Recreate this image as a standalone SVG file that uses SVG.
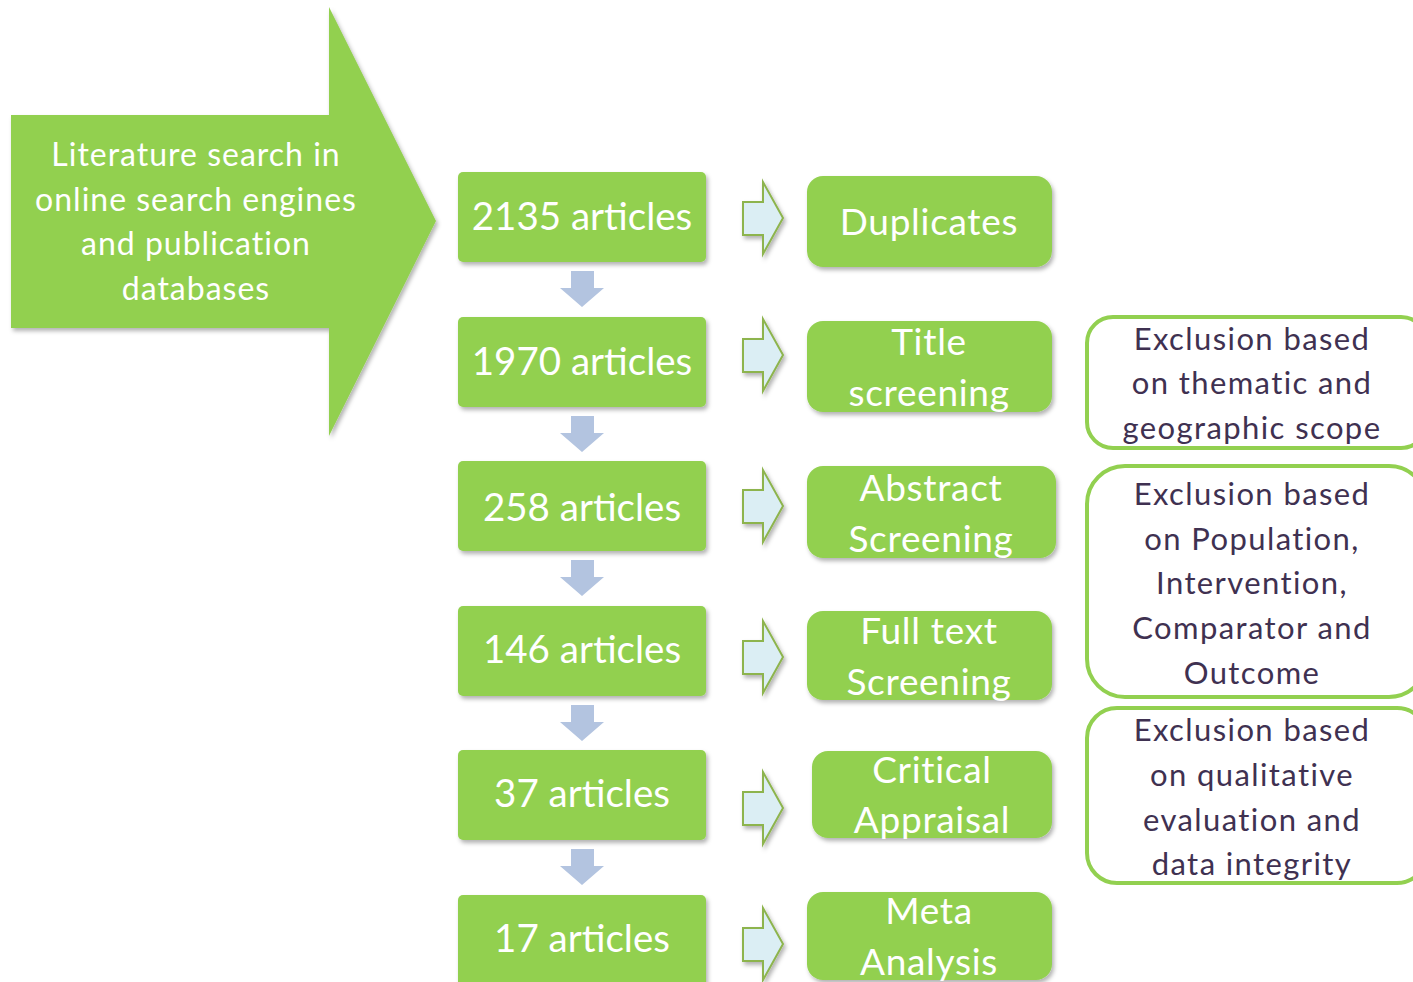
<svg xmlns="http://www.w3.org/2000/svg" width="1413" height="982" viewBox="0 0 1413 982">
<style>
.g{fill:#92D050}
.wt{fill:#ffffff;font-family:Lato,"Noto Sans",sans-serif;text-anchor:middle}
.dt{fill:#3F3151;font-family:Lato,"Noto Sans",sans-serif;text-anchor:middle;font-size:31px;letter-spacing:1.4px}
.big{font-size:38.5px}
.mid{font-size:37px;letter-spacing:0.7px}
.src{font-size:32px;letter-spacing:1px}
.down{fill:#B3C4E0}
.ra{fill:#DBEEF4;stroke:#8DB44E;stroke-width:2}
.ex{fill:#ffffff;stroke:#92D050;stroke-width:4}
</style>
<defs>
<filter id="sh" x="-10%" y="-10%" width="130%" height="130%">
<feDropShadow dx="2" dy="3" stdDeviation="2" flood-color="#000" flood-opacity="0.3"/>
</filter>
</defs>
<g id="search">
<polygon class="g" filter="url(#sh)" points="11,115 329,115 329,7 436,221 329,436 329,328 11,328"/>
<text class="wt src" x="196" y="166">Literature search in</text>
<text class="wt src" x="196" y="211">online search engines</text>
<text class="wt src" x="196" y="255">and publication</text>
<text class="wt src" x="196" y="300">databases</text>
</g>
<g id="connectors">
<polygon class="down" points="571,271 594,271 594,288 604,288 582,307 560,288 571,288"/>
<polygon class="down" points="571,416 594,416 594,433 604,433 582,452 560,433 571,433"/>
<polygon class="down" points="571,560 594,560 594,577 604,577 582,596 560,577 571,577"/>
<polygon class="down" points="571,705 594,705 594,722 604,722 582,741 560,722 571,722"/>
<polygon class="down" points="571,849 594,849 594,866 604,866 582,885 560,866 571,866"/>
<g filter="url(#sh)">
<polygon class="ra" points="743,202 763,202 763,182 783,218 763,254 763,235 743,235"/>
<polygon class="ra" points="743,339 763,339 763,319 783,355 763,391 763,372 743,372"/>
<polygon class="ra" points="743,490 763,490 763,470 783,506 763,542 763,523 743,523"/>
<polygon class="ra" points="743,641 763,641 763,621 783,657 763,693 763,674 743,674"/>
<polygon class="ra" points="743,792 763,792 763,772 783,808 763,844 763,825 743,825"/>
<polygon class="ra" points="743,928 763,928 763,908 783,944 763,980 763,961 743,961"/>
</g>
</g>
<g id="n2135"><rect class="g" filter="url(#sh)" x="458" y="172" width="248" height="90" rx="5"/><text class="wt big" x="582" y="230">2135 articles</text></g>
<g id="n1970"><rect class="g" filter="url(#sh)" x="458" y="317" width="248" height="90" rx="5"/><text class="wt big" x="582" y="375">1970 articles</text></g>
<g id="n258"><rect class="g" filter="url(#sh)" x="458" y="461" width="248" height="90" rx="5"/><text class="wt big" x="582" y="521">258 articles</text></g>
<g id="n146"><rect class="g" filter="url(#sh)" x="458" y="606" width="248" height="90" rx="5"/><text class="wt big" x="582" y="663">146 articles</text></g>
<g id="n37"><rect class="g" filter="url(#sh)" x="458" y="750" width="248" height="90" rx="5"/><text class="wt big" x="582" y="807">37 articles</text></g>
<g id="n17"><rect class="g" filter="url(#sh)" x="458" y="895" width="248" height="95" rx="5"/><text class="wt big" x="582" y="952">17 articles</text></g>
<g id="duplicates"><rect class="g" filter="url(#sh)" x="807" y="176" width="245" height="91" rx="16"/><text class="wt mid" x="929" y="235">Duplicates</text></g>
<g id="title"><rect class="g" filter="url(#sh)" x="807" y="321" width="245" height="91" rx="16"/><text class="wt mid" x="929" y="355">Title</text><text class="wt mid" x="929" y="406">screening</text></g>
<g id="abstract"><rect class="g" filter="url(#sh)" x="807" y="466" width="249" height="92" rx="16"/><text class="wt mid" x="931" y="501">Abstract</text><text class="wt mid" x="931" y="552">Screening</text></g>
<g id="fulltext"><rect class="g" filter="url(#sh)" x="807" y="611" width="245" height="89" rx="16"/><text class="wt mid" x="929" y="644">Full text</text><text class="wt mid" x="929" y="695">Screening</text></g>
<g id="critical"><rect class="g" filter="url(#sh)" x="812" y="751" width="240" height="87" rx="16"/><text class="wt mid" x="932" y="783">Critical</text><text class="wt mid" x="932" y="833">Appraisal</text></g>
<g id="meta"><rect class="g" filter="url(#sh)" x="807" y="892" width="245" height="88" rx="16"/><text class="wt mid" x="929" y="924">Meta</text><text class="wt mid" x="929" y="975">Analysis</text></g>
<g id="ex1"><rect class="ex" x="1087" y="317" width="340" height="131" rx="26"/>
<text class="dt" x="1252" y="350">Exclusion based</text><text class="dt" x="1252" y="394">on thematic and</text><text class="dt" x="1252" y="439">geographic scope</text></g>
<g id="ex2"><rect class="ex" x="1087" y="466" width="340" height="231" rx="38"/>
<text class="dt" x="1252" y="505">Exclusion based</text><text class="dt" x="1252" y="550">on Population,</text><text class="dt" x="1252" y="594">Intervention,</text><text class="dt" x="1252" y="639">Comparator and</text><text class="dt" x="1252" y="684">Outcome</text></g>
<g id="ex3"><rect class="ex" x="1087" y="708" width="340" height="175" rx="30"/>
<text class="dt" x="1252" y="741">Exclusion based</text><text class="dt" x="1252" y="786">on qualitative</text><text class="dt" x="1252" y="831">evaluation and</text><text class="dt" x="1252" y="875">data integrity</text></g>
</svg>
